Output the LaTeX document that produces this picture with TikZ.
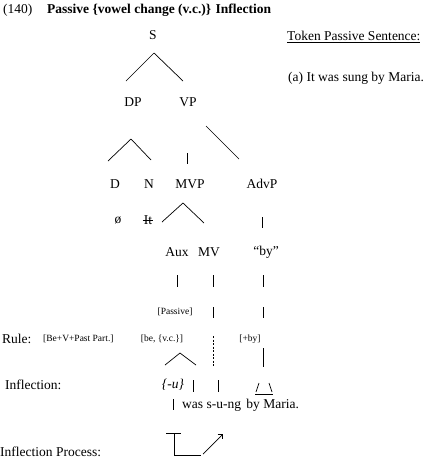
\documentclass[tikz,border=0pt]{standalone}
\usepackage{fontspec}
\setmainfont{Liberation Serif}
\usepackage{tikz}
\usetikzlibrary{arrows.meta}
\newcommand*{\fs}{13.5}
\newcommand*{\sfs}{9.5}

\begin{document}
\begin{tikzpicture}[
   x=1pt, y=-1pt,
   cat/.style={font=\fontsize{\fs}{16}\selectfont, inner sep=0, text=black},
   catbold/.style={font=\fontsize{\fs}{16}\selectfont\bfseries, inner sep=0, text=black},
   catit/.style={font=\fontsize{\fs}{16}\selectfont\itshape, inner sep=0, text=black},
   rulelbl/.style={font=\fontsize{\sfs}{11}\selectfont, inner sep=0, text=black},
   branch/.style={draw=black, line width=0.7},
   dotbranch/.style={branch, dash pattern=on 2 off 1.5}
  ]

  \useasboundingbox (0, 0) rectangle (428, 461);

  % Heading and token sentence
  \node (Num) at (3, 10) [cat, anchor=west] {(140)};
  \node (Title) at (47, 10) [catbold, anchor=west] {Passive \{vowel change (v.c.)\} Inflection};
  \node (Token) at (287, 37) [cat, anchor=west] {\underline{Token Passive Sentence:}};
  \node (Sent) at (288, 78) [cat, anchor=west] {(a) It was sung by Maria.};

  % Tree
  \node (S) at (153, 35) [cat] {S};
  \node (DP) at (133, 102) [cat] {DP};
  \node (VP) at (188, 102) [cat] {VP};
  \node (D) at (115, 184) [cat] {D};
  \node (N) at (149, 184) [cat] {N};
  \node (MVP) at (190, 184) [cat] {MVP};
  \node (AdvP) at (262, 184) [cat] {AdvP};
  \node (Null) at (118, 220) [cat] {ø};
  \node (It) at (148, 220) [cat] {It};
  \node (Aux) at (177, 252) [cat] {Aux};
  \node (MV) at (209, 252) [cat] {MV};
  \node (By) at (266, 252) [cat] {“by”};
  \node (Passive) at (175, 312) [rulelbl] {[Passive]};

  % Rule row
  \node (Rule) at (2, 339) [cat, anchor=west] {Rule:};
  \node (RuleBe) at (43, 339) [rulelbl, anchor=west] {[Be+V+Past Part.]};
  \node (BeVC) at (162, 339) [rulelbl] {[be, \{v.c.\}]};
  \node (PlusBy) at (250, 339) [rulelbl] {[+by]};

  % Inflection rows
  \node (Infl) at (5, 385) [cat, anchor=west] {Inflection:};
  \node (U) at (173, 385) [catit] {\{-u\}};
  \node (Out) at (182, 405) [cat, anchor=west] {was s-u-ng\hspace{2pt} by Maria.};
  \node (Proc) at (0, 452) [cat, anchor=west] {Inflection Process:};

  % Branch ends
  \foreach \n/\x/\y in {S-dn/154/53, DP-up/126/81, VP-up/183/81,
                        DP-dn/131/139, D-up/108/161, N-up/151/160,
                        VP-dn/206/126, AdvP-up/239/159,
                        MVP-top/187/153, MVP-up/187/164,
                        MVP-dn/183/203, Aux-up/162/222, MV-up/204/223,
                        AdvP-dn/262/217, By-up/262/228,
                        Aux-dn/177/275, Aux-a/177/287,
                        MV-dn/213/275, MV-a/213/287, MV-b/213/307, MV-c/213/318,
                        By-dn/263/275, By-a/263/287, By-b/263/307, By-c/263/318,
                        By-d/263/348, By-e/263/367,
                        BeVC-dn/180/353, U-up/165/365, U-rt/196/365,
                        U-bar/193/380, U-bar2/193/392,
                        MV-f/218/380, MV-g/218/392,
                        Out-bar/173/399, Out-bar2/173/410,
                        Tri-a/256/392, Tri-b/259/383, Tri-c/269/383, Tri-d/272/392,
                        Tri-e/255/394, Tri-f/273/394,
                        Br-a/166/433, Br-b/181/433, Br-c/174/433, Br-d/174/455,
                        Br-e/201/455, Arr-a/203/454, Arr-b/223/434} {
    \coordinate (\n) at (\x, \y);
  }

  \foreach \B/\E in {S-dn/DP-up, S-dn/VP-up, DP-dn/D-up, DP-dn/N-up,
                     VP-dn/AdvP-up, MVP-top/MVP-up, MVP-dn/Aux-up, MVP-dn/MV-up,
                     AdvP-dn/By-up, Aux-dn/Aux-a, MV-dn/MV-a, MV-b/MV-c,
                     By-dn/By-a, By-b/By-c, By-d/By-e,
                     BeVC-dn/U-up, BeVC-dn/U-rt, U-bar/U-bar2, MV-f/MV-g,
                     Out-bar/Out-bar2, Tri-a/Tri-b, Tri-c/Tri-d, Tri-e/Tri-f,
                     Br-a/Br-b} {
    \draw[branch] (\B) -- (\E);
  }

  % Struck-out subject
  \draw[branch, line width=0.6] ([xshift=-1]It.west) -- ([xshift=1]It.east);

  % Dotted MV line
  \coordinate (MV-d) at (213, 336);
  \coordinate (MV-e) at (213, 367);
  \draw[dotbranch] (MV-d) -- (MV-e);

  % Process bracket and arrow
  \draw[branch] (Br-c) -- (Br-d) -- (Br-e);
  \draw[branch, -{Straight Barb[angle=90:5pt]}] (Arr-a) -- (Arr-b);

\end{tikzpicture}
\end{document}
